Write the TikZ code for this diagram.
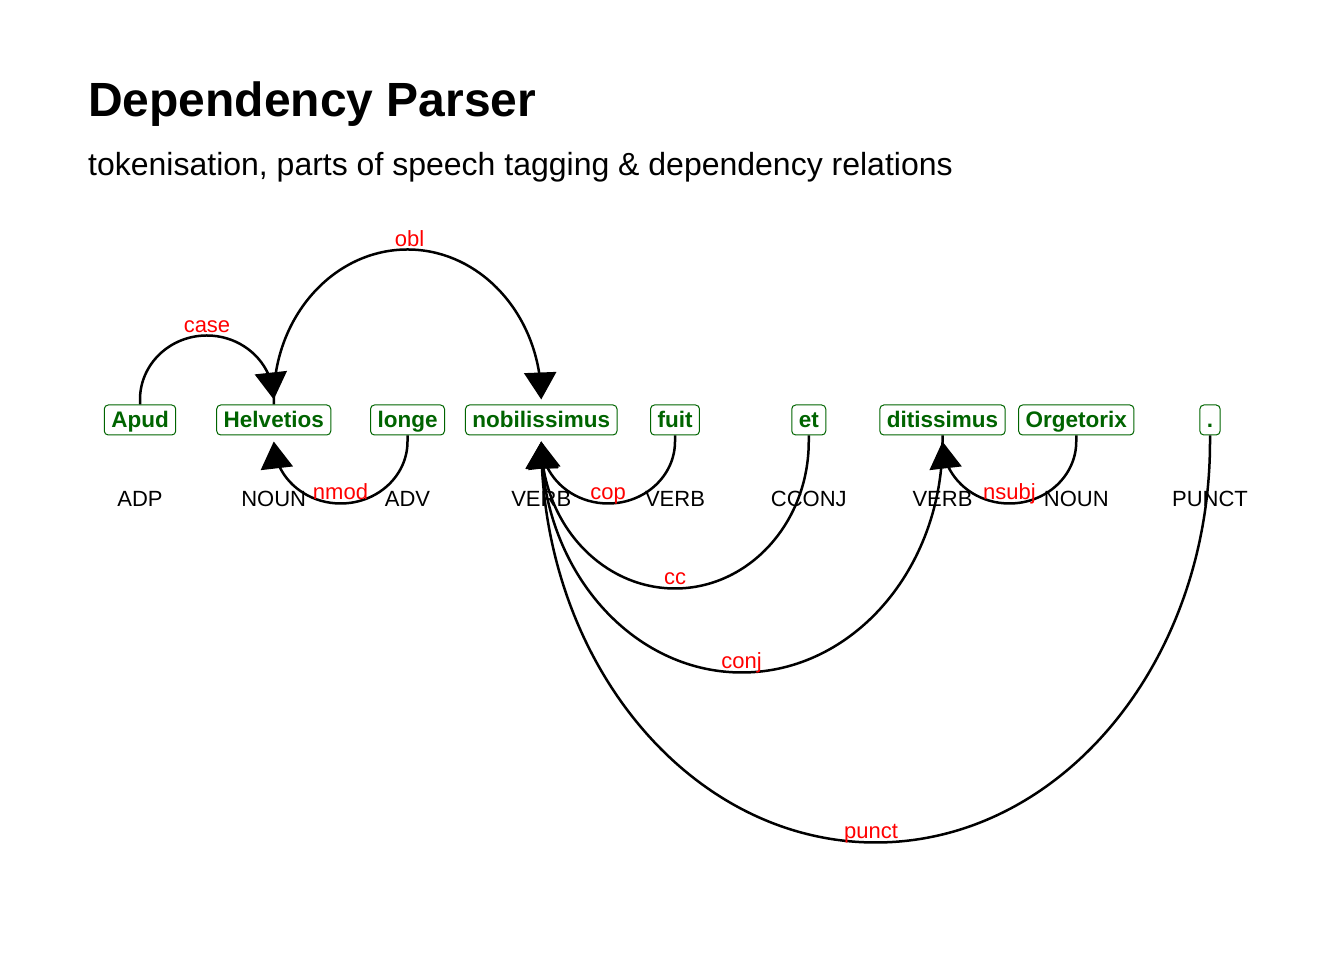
\documentclass[tikz,border=0pt]{standalone}
\usepackage{fontspec}
\setmainfont{Liberation Sans}
\usetikzlibrary{arrows.meta,bending}
\definecolor{tokgreen}{RGB}{0,100,0}
\begin{document}
\begin{tikzpicture}[x=1pt,y=1pt,
  tokenbox/.style={draw=tokgreen, line width=1pt, rounded corners=4pt, fill=white,
    text=tokgreen, font=\fontsize{22.5}{26}\selectfont\bfseries,
    inner xsep=7pt, inner ysep=0pt, text height=23pt, text depth=7pt},
  postag/.style={anchor=base, inner sep=0pt, font=\fontsize{22}{26}\selectfont},
  rellabel/.style={anchor=base, inner sep=0pt, text=red, font=\fontsize{22}{26}\selectfont},
  deparc/.style={line width=2.5pt, -{Triangle[width=32pt,length=27pt,flex=0.5]}},
]
\useasboundingbox (0,0) rectangle (1344,960);

% title
\node[anchor=base west, inner sep=0pt, font=\fontsize{48}{56}\selectfont\bfseries] (title) at (88,843) {Dependency Parser};
\node[anchor=base west, inner sep=0pt, font=\fontsize{32}{38}\selectfont] (subtitle) at (88,784) {tokenisation, parts of speech tagging \& dependency relations};

% tokens
\node[tokenbox] (t1) at (140,540) {Apud};
\node[tokenbox] (t2) at (273.75,540) {Helvetios};
\node[tokenbox] (t3) at (407.5,540) {longe};
\node[tokenbox] (t4) at (541.25,540) {nobilissimus};
\node[tokenbox] (t5) at (675,540) {fuit};
\node[tokenbox] (t6) at (808.75,540) {et};
\node[tokenbox] (t7) at (942.5,540) {ditissimus};
\node[tokenbox] (t8) at (1076.25,540) {Orgetorix};
\node[tokenbox] (t9) at (1210,540) {.};

% parts of speech
\node[postag] (p1) at (140,453) {ADP};
\node[postag] (p2) at (273.75,453) {NOUN};
\node[postag] (p3) at (407.5,453) {ADV};
\node[postag] (p4) at (541.25,453) {VERB};
\node[postag] (p5) at (675,453) {VERB};
\node[postag] (p6) at (808.75,453) {CCONJ};
\node[postag] (p7) at (942.5,453) {VERB};
\node[postag] (p8) at (1076.25,453) {NOUN};
\node[postag] (p9) at (1210,453) {PUNCT};

% arcs above
\draw[deparc] (t1.north) -- ++(0,5) arc[start angle=180, end angle=0, x radius=66.875, y radius=64];
\draw[deparc] (t2.north) -- ++(0,5) arc[start angle=180, end angle=0, x radius=133.75, y radius=150];

% arcs below
\draw[deparc] (t3.south) -- ++(0,-6) arc[start angle=0, end angle=-180, x radius=66.875, y radius=62];
\draw[deparc] (t5.south) -- ++(0,-6) arc[start angle=0, end angle=-180, x radius=66.875, y radius=62];
\draw[deparc] (t6.south) -- ++(0,-6) arc[start angle=0, end angle=-180, x radius=133.75, y radius=147];
\draw[deparc] (t7.south) -- ++(0,-6) arc[start angle=0, end angle=-180, x radius=200.625, y radius=231];
\draw[deparc] (t9.south) -- ++(0,-6) arc[start angle=0, end angle=-180, x radius=334.375, y radius=401];
\draw[deparc] (t8.south) -- ++(0,-6) arc[start angle=0, end angle=-180, x radius=66.875, y radius=62];

% relation labels
\node[rellabel] (r1) at (207,627) {case};
\node[rellabel] (r2) at (409.5,713) {obl};
\node[rellabel] (r3) at (340.5,460) {nmod};
\node[rellabel] (r4) at (608,460) {cop};
\node[rellabel] (r5) at (675,375) {cc};
\node[rellabel] (r6) at (741.5,291) {conj};
\node[rellabel] (r7) at (871,121) {punct};
\node[rellabel] (r8) at (1009.5,460) {nsubj};
\end{tikzpicture}
\end{document}
